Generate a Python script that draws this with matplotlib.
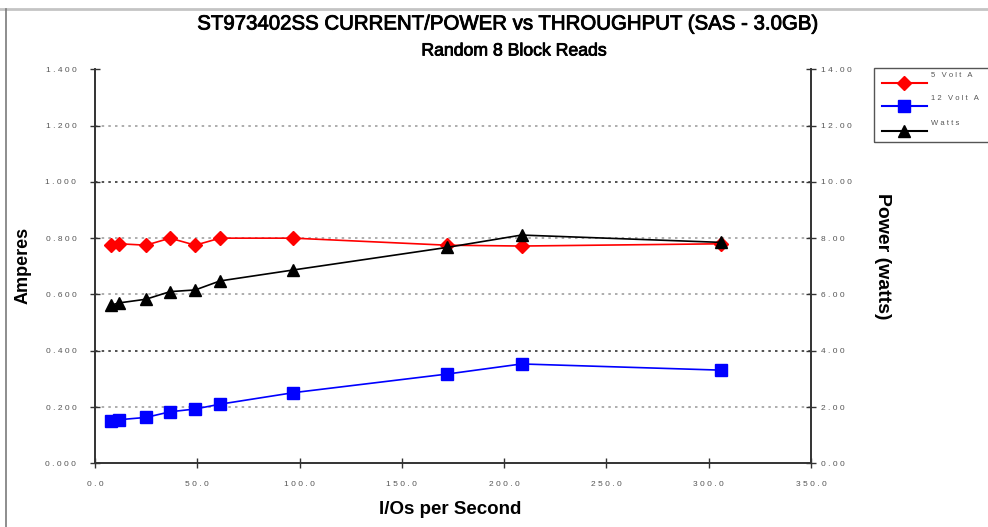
import matplotlib
matplotlib.use("Agg")
import matplotlib.pyplot as plt
from matplotlib.ticker import FuncFormatter, MultipleLocator
from matplotlib.lines import Line2D
from matplotlib.patches import Rectangle
import matplotlib.patheffects as pe

iops = [7.7, 11.9, 24.9, 36.7, 49.0, 61.1, 97.0, 172.0, 208.5, 306.0]
volt5_amps = [0.775, 0.780, 0.775, 0.800, 0.775, 0.800, 0.800, 0.775, 0.772, 0.780]
volt12_amps = [0.150, 0.155, 0.163, 0.183, 0.193, 0.210, 0.251, 0.317, 0.353, 0.331]
watts = [5.62, 5.70, 5.83, 6.10, 6.16, 6.48, 6.87, 7.67, 8.11, 7.85]

title_line1 = "ST973402SS CURRENT/POWER vs THROUGHPUT (SAS - 3.0GB)"
title_line2 = "Random 8 Block Reads"
series_names = ["5 Volt A", "12 Volt A", "Watts"]

plt.rcParams['font.family'] = ['Liberation Sans', 'DejaVu Sans']

W, H = 988, 527
fig = plt.figure(figsize=(W / 100, H / 100), dpi=100)
fig.patch.set_facecolor('white')

def fx(px):
    return px / W

def fy(py):
    return 1 - py / H

# outer frame (top and left edges only visible)
fig.add_artist(Line2D([0, 1], [fy(9), fy(9)], transform=fig.transFigure,
                      color='#c4c4c4', lw=2.0))
fig.add_artist(Line2D([fx(5.5), fx(5.5)], [fy(9), 0], transform=fig.transFigure,
                      color='#7a7a7a', lw=1.2))

ax = fig.add_axes([fx(95), fy(463.3), fx(811) - fx(95), fy(69.3) - fy(463.3)])
ax2 = ax.twinx()

def spaced(fmt):
    return FuncFormatter(lambda v, p: " ".join(fmt.format(v)))

ax.set_xlim(0, 350)
ax.set_ylim(0, 1.4)
ax2.set_ylim(0, 14)
ax.xaxis.set_major_locator(MultipleLocator(50))
ax.yaxis.set_major_locator(MultipleLocator(0.2))
ax2.yaxis.set_major_locator(MultipleLocator(2))
ax.xaxis.set_major_formatter(spaced("{:.1f}"))
ax.yaxis.set_major_formatter(spaced("{:.3f}"))
ax2.yaxis.set_major_formatter(spaced("{:.2f}"))

# grid lines
for g in [0.2, 0.6, 0.8, 1.2]:
    ax.axhline(g, color='#a0a0a0', ls=(0, (1.5, 2.5)), lw=1.2, zorder=0)
for g in [0.4, 1.0]:
    ax.axhline(g, color='#333333', ls=(0, (1.5, 2.5)), lw=1.2, zorder=0)

ax.plot(iops, volt5_amps, color='#ff0000', lw=1.2, marker='D', ms=7, zorder=3)
ax.plot(iops, volt12_amps, color='#0000ff', lw=1.2, marker='s', ms=8, zorder=3)
ax2.plot(iops, watts, color='black', lw=1.2, marker='^', ms=9, zorder=3)

for a in (ax, ax2):
    a.spines['top'].set_visible(False)
    for s in ['left', 'right', 'bottom']:
        a.spines[s].set_color('#333333')
        a.spines[s].set_linewidth(1.2)
    a.tick_params(direction='inout', length=7, width=1.0, colors='#333333',
                  labelsize=6, labelcolor='#555555')
ax.tick_params(axis='y', pad=10)
ax2.tick_params(axis='y', pad=4)
ax.tick_params(axis='x', pad=9)

ax.set_xlabel("I/Os per Second", fontsize=13.5, fontweight='bold')
ax.xaxis.set_label_coords((450 - 95) / (811 - 95), -(510 - 463.3) / (463.3 - 69.3))
ax.xaxis.label.set_va('center')
ax.set_ylabel("Amperes", fontsize=13, fontweight='bold')
ax.yaxis.set_label_coords((23 - 95) / (811 - 95), (463.3 - 265) / (463.3 - 69.3))
ax.yaxis.label.set_va('center')
ax2.set_ylabel("Power (watts)", fontsize=14, fontweight='bold', rotation=270)
ax2.yaxis.set_label_coords((883 - 95) / (811 - 95), (463.3 - 256) / (463.3 - 69.3))
ax2.yaxis.label.set_va('center')

thick = [pe.withStroke(linewidth=0.6, foreground='black')]
fig.text(fx(507), fy(24), title_line1, ha='center', va='center', fontsize=14.7,
         path_effects=thick)
fig.text(fx(514), fy(51), title_line2, ha='center', va='center', fontsize=12.7,
         path_effects=thick)

# legend box (runs off the right edge as in the reference)
fig.add_artist(Rectangle((fx(874), fy(142)), fx(140), fy(68) - fy(142),
                         transform=fig.transFigure, fill=False,
                         edgecolor='#555555', lw=1.0))
leg_styles = [('#ff0000', 'D', 7), ('#0000ff', 's', 8), ('black', '^', 9)]
leg_line_y = [82.7, 106, 130.7]
for name, (c, m, s), ly in zip(series_names, leg_styles, leg_line_y):
    fig.add_artist(Line2D([fx(881.7), fx(926.7)], [fy(ly), fy(ly)],
                          transform=fig.transFigure, color=c, lw=1.5))
    fig.add_artist(Line2D([fx(904)], [fy(ly)], transform=fig.transFigure,
                          color=c, marker=m, ms=s, lw=0))
    fig.text(fx(930.7), fy(ly - 7.5), " ".join(name), ha='left', va='center',
             fontsize=5.5, color='#555555')

fig.savefig("out.png", dpi=100, facecolor='white')
